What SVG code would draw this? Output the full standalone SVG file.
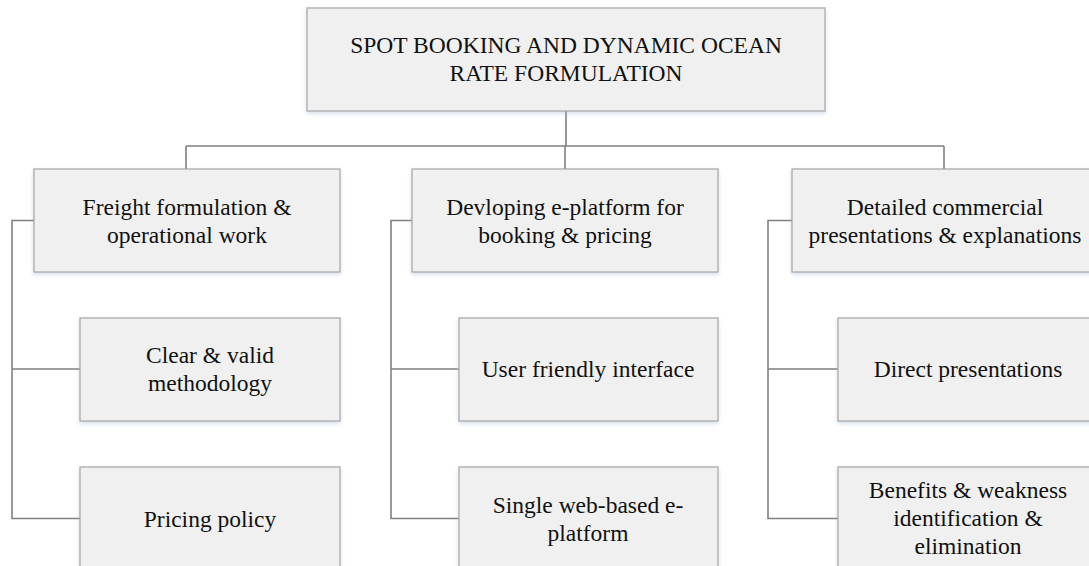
<svg xmlns="http://www.w3.org/2000/svg" width="1089" height="566" viewBox="0 0 1089 566">
  <defs>
    <filter id="sh" x="-5%" y="-10%" width="110%" height="130%">
      <feDropShadow dx="0" dy="2" stdDeviation="2" flood-color="#9fb6d6" flood-opacity="0.45"/>
    </filter>
  </defs>
  <style>
    .box { fill: #f0f0f0; stroke: #a5a5a5; stroke-width: 1.2; filter: url(#sh); }
    .t { font-family: "Liberation Serif", "Times New Roman", serif; font-size: 23.5px; fill: #111; text-anchor: middle; }
    .c { fill: none; stroke: #808080; stroke-width: 1.6; }
  </style>
  <rect width="1089" height="566" fill="#ffffff"/>

  <g id="connectors">
    <path class="c" d="M566 111 V146 M186 146 H944 M186 146 V169 M565 146 V169 M944 146 V169"/>
    <path class="c" d="M34 220.5 H12 V518.5 H80 M12 369 H80"/>
    <path class="c" d="M412 220.5 H391 V518.5 H459 M391 369 H459"/>
    <path class="c" d="M792 220.5 H768 V518.5 H838 M768 369 H838"/>
  </g>

  <g id="root">
    <rect class="box" x="307" y="8" width="518" height="103"/>
    <text class="t" x="566" y="53">SPOT BOOKING AND DYNAMIC OCEAN</text>
    <text class="t" x="566" y="81">RATE FORMULATION</text>
  </g>

  <g id="n-freight">
    <rect class="box" x="34" y="169" width="306" height="103"/>
    <text class="t" x="187" y="214.5">Freight formulation &amp;</text>
    <text class="t" x="187" y="242.5">operational work</text>
  </g>
  <g id="n-eplatform">
    <rect class="box" x="412" y="169" width="306" height="103"/>
    <text class="t" x="565" y="214.5">Devloping e-platform for</text>
    <text class="t" x="565" y="242.5">booking &amp; pricing</text>
  </g>
  <g id="n-commercial">
    <rect class="box" x="792" y="169" width="306" height="103"/>
    <text class="t" x="945" y="214.5">Detailed commercial</text>
    <text class="t" x="945" y="242.5">presentations &amp; explanations</text>
  </g>

  <g id="n-clear">
    <rect class="box" x="80" y="318" width="260" height="103"/>
    <text class="t" x="210" y="363">Clear &amp; valid</text>
    <text class="t" x="210" y="391">methodology</text>
  </g>
  <g id="n-pricing">
    <rect class="box" x="80" y="467" width="260" height="103"/>
    <text class="t" x="210" y="527">Pricing policy</text>
  </g>

  <g id="n-user">
    <rect class="box" x="459" y="318" width="259" height="103"/>
    <text class="t" x="588" y="377">User friendly interface</text>
  </g>
  <g id="n-single">
    <rect class="box" x="459" y="467" width="259" height="103"/>
    <text class="t" x="588" y="512.5">Single web-based e-</text>
    <text class="t" x="588" y="540.5">platform</text>
  </g>

  <g id="n-direct">
    <rect class="box" x="838" y="318" width="260" height="103"/>
    <text class="t" x="968" y="377">Direct presentations</text>
  </g>
  <g id="n-benefits">
    <rect class="box" x="838" y="467" width="260" height="103"/>
    <text class="t" x="968" y="498">Benefits &amp; weakness</text>
    <text class="t" x="968" y="526">identification &amp;</text>
    <text class="t" x="968" y="554">elimination</text>
  </g>
</svg>
